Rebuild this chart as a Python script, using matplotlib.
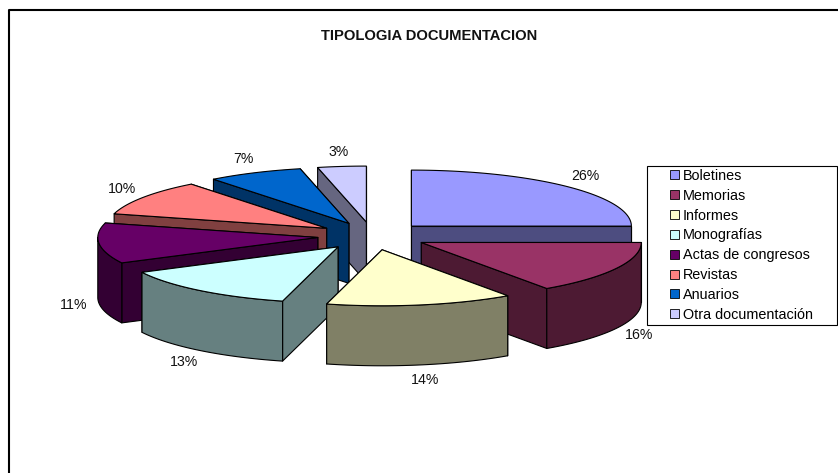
import numpy as np
import matplotlib
matplotlib.use("Agg")
import matplotlib.pyplot as plt
from matplotlib.patches import Polygon, Patch, Rectangle
from matplotlib.legend_handler import HandlerPatch

plt.rcParams['font.family'] = ['Liberation Sans', 'DejaVu Sans']

categories = ["Boletines", "Memorias", "Informes", "Monografías",
              "Actas de congresos", "Revistas", "Anuarios", "Otra documentación"]
percent = [26, 16, 14, 13, 11, 10, 7, 3]
top_colors = ["#9999FF", "#993366", "#FFFFCC", "#CCFFFF",
              "#660066", "#FF8080", "#0066CC", "#CCCCFF"]
side_colors = ["#4D4D80", "#4D1A33", "#808066", "#668080",
               "#330033", "#804040", "#003366", "#666680"]

# pie layout in pixels
cx, cy = 372.5, 236
rx, ry = 220, 56
depth = 60
explode = 0.25
# excel's 3d perspective moves the slice boundaries a few degrees
persp_shift = [0, 3.6, 6, 7, 5.4, 3, 2, 2, 0]


def ell(t):
    t = np.radians(t)
    return np.column_stack([rx * np.sin(t), -ry * np.cos(t)])


def legend_swatch(legend, orig_handle, xdescent, ydescent, width, height, fontsize):
    # 9px square at the right end of the handle box
    s = 6.5
    return Rectangle((width - s, (height - s) / 2), s, s)


fig = plt.figure(figsize=(8.38, 4.73), dpi=100)
ax = fig.add_axes([0, 0, 1, 1])
ax.set_xlim(0, 838)
ax.set_ylim(473, 0)
ax.axis("off")

# chart frame
ax.plot([9, 9, 838], [473, 10, 10], color="black", lw=1.5, solid_capstyle="butt")

cum = np.concatenate([[0], np.cumsum(percent)]) / np.sum(percent) * 360
bounds = cum - np.array(persp_shift)
starts = bounds[:-1]
ends = bounds[1:]
mids = (starts + ends) / 2

apex = np.array([cx, cy]) + explode * ell(mids)

# back to front, Informes sits on top of Memorias
order = [0, 7, 6, 5, 4, 3, 1, 2]
down = np.array([0, depth])
edge = dict(edgecolor="black", linewidth=0.8, joinstyle="round")

for i in order:
    a = apex[i]
    arc = a + ell(np.linspace(starts[i], ends[i], 60))
    # farther wall first so the near one hides it
    for p in sorted((arc[0], arc[-1]), key=lambda q: q[1]):
        wall = [a, p, p + down, a + down]
        ax.add_patch(Polygon(wall, facecolor=side_colors[i], **edge))
    lo, hi = max(starts[i], 90), min(ends[i], 270)
    if hi > lo:
        rim = a + ell(np.linspace(lo, hi, 60))
        ax.add_patch(Polygon(np.vstack([rim, rim[::-1] + down]),
                             facecolor=side_colors[i], **edge))
    ax.add_patch(Polygon(np.vstack([a, arc]), facecolor=top_colors[i], **edge))

# percent labels just outside each slice
for i in range(len(percent)):
    m = np.radians(mids[i])
    p = apex[i] + ell(mids[i])[0]
    if np.cos(m) < 0:
        p = p + down
    ax.text(p[0] + 26 * np.sin(m), p[1] - 15 * np.cos(m), f"{percent[i]}%",
            ha="center", va="center", fontsize=10.2, color="#111111")

ax.text(429, 36, "TIPOLOGIA DOCUMENTACION", ha="center", va="center",
        fontsize=10.6, fontweight="bold", color="#111111")

handles = [Patch(facecolor=c, edgecolor="black", linewidth=0.6) for c in top_colors]
leg = ax.legend(handles, categories, loc="upper left", mode="expand",
                bbox_to_anchor=(647 / 838, 1 - 326 / 473, 190 / 838, 160 / 473),
                borderaxespad=0, fontsize=10.4, fancybox=False, framealpha=1,
                edgecolor="black", handlelength=2.0, handleheight=0.7,
                handletextpad=0.3, labelspacing=0.405, borderpad=0.2,
                handler_map={Patch: HandlerPatch(patch_func=legend_swatch)})
leg.get_frame().set_linewidth(0.8)

fig.savefig("out.png", dpi=100)
